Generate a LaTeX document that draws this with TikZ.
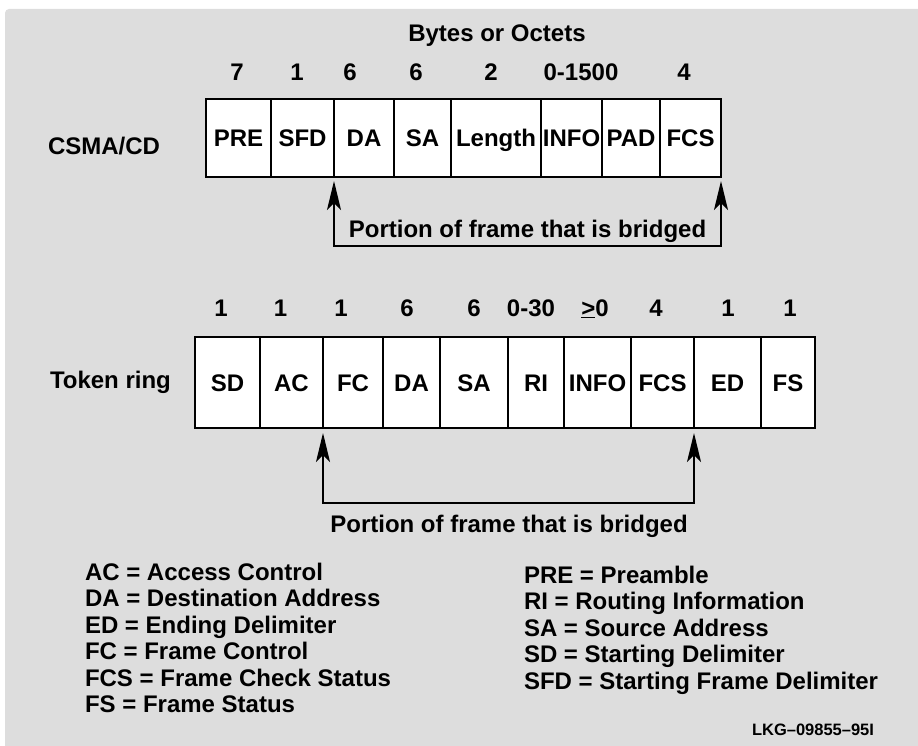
\documentclass[tikz,border=0pt]{standalone}
\usepackage{fontspec}
\setmainfont{Liberation Sans}
\usetikzlibrary{arrows.meta}
\definecolor{panelgray}{RGB}{221,221,221}

\begin{document}
\begin{tikzpicture}[x=1pt,y=-1pt,>={Stealth[length=29pt,width=14pt,inset=7pt]},
    every node/.style={font=\fontsize{24}{27}\selectfont\bfseries, inner sep=0pt, outer sep=0pt},
    fieldbox/.style={draw, line width=1.3pt, fill=white, text height=17.2pt, text depth=0pt},
    csmabox/.style={fieldbox, minimum height=78pt},
    ringbox/.style={fieldbox, minimum height=91pt},
    bridge/.style={<->, line width=1.8pt}]
                \useasboundingbox (0,0) rectangle (918,746);
                \fill[panelgray, rounded corners=4pt] (5,9) rectangle (940,770);

                \node[anchor=base] (bytes) at (497,42) {Bytes or Octets};
                \node[anchor=base west] (csma) at (48,155) {CSMA/CD};

                \node[anchor=base] (n1) at (237,81) {7};
                \node[anchor=base] (n2) at (297,81) {1};
                \node[anchor=base] (n3) at (350,81) {6};
                \node[anchor=base] (n4) at (416,81) {6};
                \node[anchor=base] (n5) at (491,81) {2};
                \node[anchor=base] (n6) at (581,81) {0-1500};
                \node[anchor=base] (n7) at (684,81) {4};

                \node[csmabox, minimum width=65pt] (pre) at (238.5,138) {PRE};
                \node[csmabox, minimum width=63pt] (sfd) at (302.5,138) {SFD};
                \node[csmabox, minimum width=60pt] (da1) at (364,138) {DA};
                \node[csmabox, minimum width=57pt] (sa1) at (422.5,138) {SA};
                \node[csmabox, minimum width=90pt] (len) at (496,138) {Length};
                \node[csmabox, minimum width=61pt] (info1) at (571.5,138) {INFO};
                \node[csmabox, minimum width=58pt] (pad) at (631,138) {PAD};
                \node[csmabox, minimum width=61pt] (fcs1) at (690.5,138) {FCS};
                \draw[line width=2.4pt] (pre.north west) rectangle (fcs1.south east);

                \coordinate (brk1) at (527.5,246);
                \draw[bridge] ([yshift=-4pt]da1.south west) |- (brk1) -| ([yshift=-4pt]fcs1.south east);
                \node[anchor=base] (lab1) at (527.5,237) {Portion of frame that is bridged};

                \node[anchor=base west] (ring) at (50,388) {Token ring};

                \node[anchor=base] (m1) at (221,316) {1};
                \node[anchor=base] (m2) at (280.5,316) {1};
                \node[anchor=base] (m3) at (341,316) {1};
                \node[anchor=base] (m4) at (407,316) {6};
                \node[anchor=base] (m5) at (474,316) {6};
                \node[anchor=base] (m6) at (531,316) {0-30};
                \node[anchor=base] (m7) at (595,316) {\underline{>}0};
                \node[anchor=base] (m8) at (656,316) {4};
                \node[anchor=base] (m9) at (728,316) {1};
                \node[anchor=base] (m10) at (790,316) {1};

                \node[ringbox, minimum width=65pt] (sd) at (227.5,382.5) {SD};
                \node[ringbox, minimum width=63pt] (ac) at (291.5,382.5) {AC};
                \node[ringbox, minimum width=60pt] (fc) at (353,382.5) {FC};
                \node[ringbox, minimum width=57pt] (da2) at (411.5,382.5) {DA};
                \node[ringbox, minimum width=68pt] (sa2) at (474,382.5) {SA};
                \node[ringbox, minimum width=56pt] (ri) at (536,382.5) {RI};
                \node[ringbox, minimum width=67pt] (info2) at (597.5,382.5) {INFO};
                \node[ringbox, minimum width=63pt] (fcs2) at (662.5,382.5) {FCS};
                \node[ringbox, minimum width=67pt] (ed) at (727.5,382.5) {ED};
                \node[ringbox, minimum width=54pt] (fs) at (788,382.5) {FS};
                \draw[line width=2.4pt] (sd.north west) rectangle (fs.south east);

                \coordinate (brk2) at (508.5,503);
                \draw[bridge] ([yshift=-5pt]fc.south west) |- (brk2) -| ([yshift=-5pt]ed.south west);
                \node[anchor=base] (lab2) at (509,532) {Portion of frame that is bridged};

                \node[anchor=base west] (k1) at (85,580) {AC = Access Control};
                \node[anchor=base west] (k2) at (85,606.5) {DA = Destination Address};
                \node[anchor=base west] (k3) at (85,633) {ED = Ending Delimiter};
                \node[anchor=base west] (k4) at (85,659.5) {FC = Frame Control};
                \node[anchor=base west] (k5) at (85,686) {FCS = Frame Check Status};
                \node[anchor=base west] (k6) at (85,712.5) {FS = Frame Status};

                \node[anchor=base west] (k7) at (524,583) {PRE = Preamble};
                \node[anchor=base west] (k8) at (524,609.5) {RI = Routing Information};
                \node[anchor=base west] (k9) at (524,636) {SA = Source Address};
                \node[anchor=base west] (k10) at (524,662.5) {SD = Starting Delimiter};
                \node[anchor=base west] (k11) at (524,689) {SFD = Starting Frame Delimiter};

                \node[anchor=base east, font=\fontsize{16.5}{18}\selectfont\bfseries] (code) at (874,735) {LKG–09855–95I};
            \end{tikzpicture}
\end{document}
